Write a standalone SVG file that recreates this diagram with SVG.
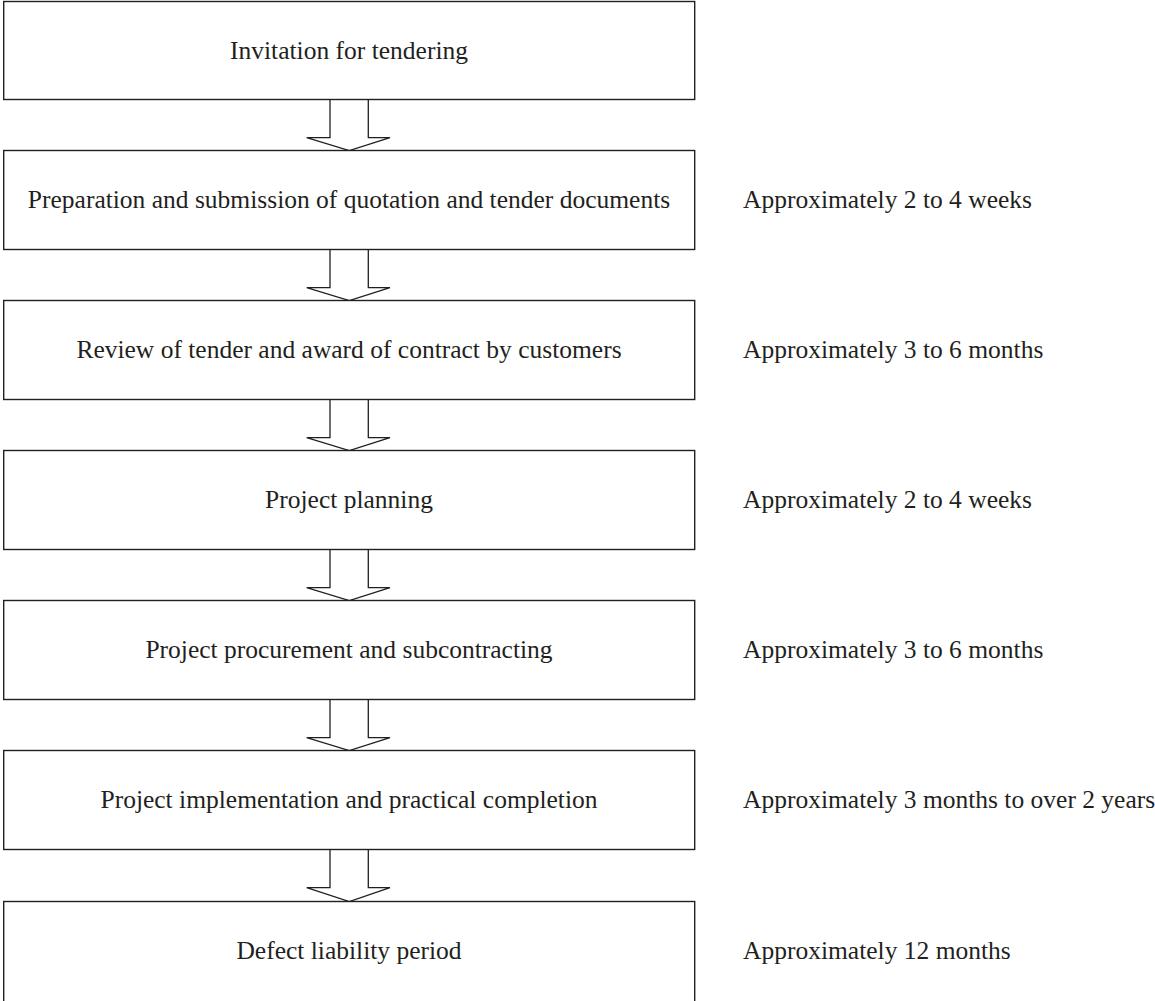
<svg xmlns="http://www.w3.org/2000/svg" width="1155" height="1001" viewBox="0 0 1155 1001">
  <style>
    .box { fill: #ffffff; stroke: #231f20; stroke-width: 1.4; }
    .arrow { fill: #ffffff; stroke: #231f20; stroke-width: 1.3; stroke-linejoin: miter; }
    .label { font-family: "Liberation Serif", "Times New Roman", serif; font-size: 25.5px; fill: #231f20; }
    .step { text-anchor: middle; }
  </style>
  <rect width="1155" height="1001" fill="#ffffff"/>

  <!-- block arrows between stages -->
  <g id="connectors">
    <path class="arrow" d="M330,99.5 V137.7 H306.7 L349.3,150.5 L390,137.7 H368.3 V99.5"/>
    <path class="arrow" d="M330,249.5 V287.7 H306.7 L349.3,300.5 L390,287.7 H368.3 V249.5"/>
    <path class="arrow" d="M330,399.5 V437.7 H306.7 L349.3,450.5 L390,437.7 H368.3 V399.5"/>
    <path class="arrow" d="M330,549.5 V587.7 H306.7 L349.3,600.5 L390,587.7 H368.3 V549.5"/>
    <path class="arrow" d="M330,699.5 V737.7 H306.7 L349.3,750.5 L390,737.7 H368.3 V699.5"/>
    <path class="arrow" d="M330,849.5 V887.7 H306.7 L349.3,901.5 L390,887.7 H368.3 V849.5"/>
  </g>

  <g id="step1">
    <rect class="box" x="3.7" y="1.5" width="691" height="98"/>
    <text class="label step" x="349" y="59">Invitation for tendering</text>
  </g>

  <g id="step2">
    <rect class="box" x="3.7" y="150.5" width="691" height="99"/>
    <text class="label step" x="349" y="208">Preparation and submission of quotation and tender documents</text>
    <text class="label" x="743" y="208">Approximately 2 to 4 weeks</text>
  </g>

  <g id="step3">
    <rect class="box" x="3.7" y="300.5" width="691" height="99"/>
    <text class="label step" x="349" y="358">Review of tender and award of contract by customers</text>
    <text class="label" x="743" y="358">Approximately 3 to 6 months</text>
  </g>

  <g id="step4">
    <rect class="box" x="3.7" y="450.5" width="691" height="99"/>
    <text class="label step" x="349" y="508">Project planning</text>
    <text class="label" x="743" y="508">Approximately 2 to 4 weeks</text>
  </g>

  <g id="step5">
    <rect class="box" x="3.7" y="600.5" width="691" height="99"/>
    <text class="label step" x="349" y="658">Project procurement and subcontracting</text>
    <text class="label" x="743" y="658">Approximately 3 to 6 months</text>
  </g>

  <g id="step6">
    <rect class="box" x="3.7" y="750.5" width="691" height="99"/>
    <text class="label step" x="349" y="808">Project implementation and practical completion</text>
    <text class="label" x="743" y="808">Approximately 3 months to over 2 years</text>
  </g>

  <g id="step7">
    <rect class="box" x="3.7" y="901.5" width="691" height="110"/>
    <text class="label step" x="349" y="959">Defect liability period</text>
    <text class="label" x="743" y="959">Approximately 12 months</text>
  </g>
</svg>
